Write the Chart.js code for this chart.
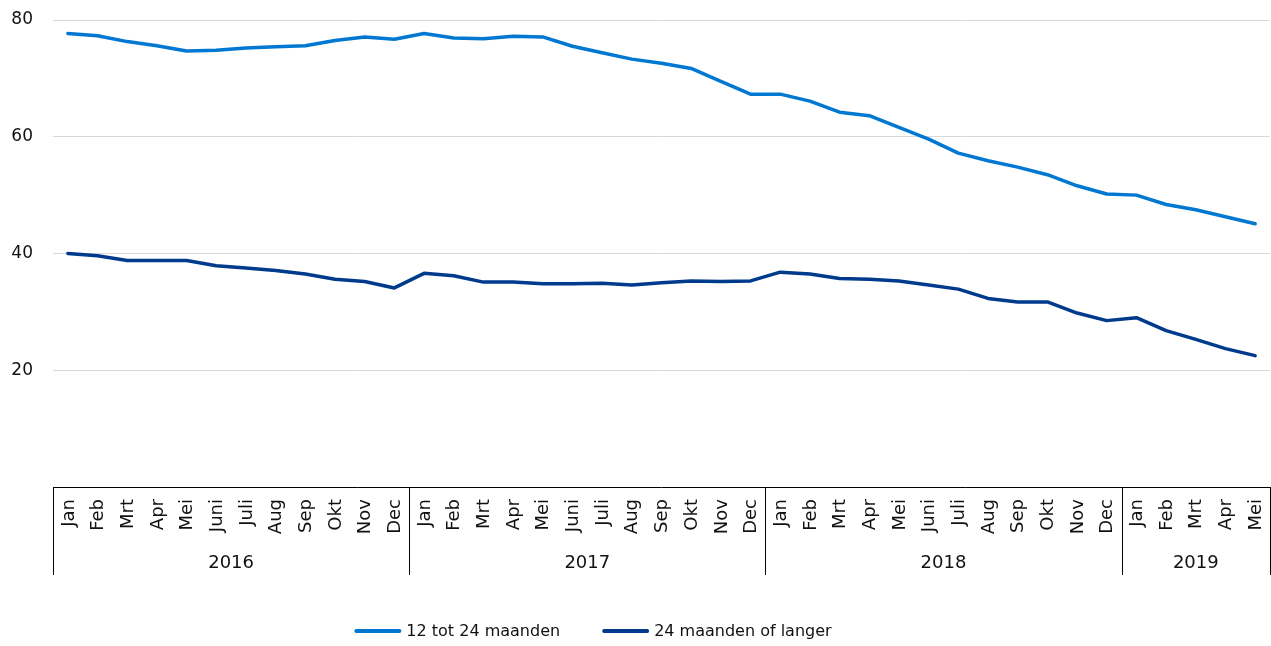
<!DOCTYPE html>
<html>
<head>
<meta charset="utf-8">
<script src="https://cdn.jsdelivr.net/npm/chart.js@4/dist/chart.umd.min.js"></script>
<style>
  html, body { margin: 0; padding: 0; background: #fff; }
  #wrap { width: 1271px; height: 646px; position: relative; }
</style>
</head>
<body>
<div id="wrap"><canvas id="chart"></canvas></div>
<script>
const months = [
  "Jan", "Feb", "Mrt", "Apr", "Mei", "Juni", "Juli", "Aug", "Sep", "Okt", "Nov", "Dec",
  "Jan", "Feb", "Mrt", "Apr", "Mei", "Juni", "Juli", "Aug", "Sep", "Okt", "Nov", "Dec",
  "Jan", "Feb", "Mrt", "Apr", "Mei", "Juni", "Juli", "Aug", "Sep", "Okt", "Nov", "Dec",
  "Jan", "Feb", "Mrt", "Apr", "Mei"
];
const years = ["2016", "2017", "2018", "2019"];
const monthsPerYear = [12, 12, 12, 5];

const shortTerm = [
  77.7, 77.3, 76.3, 75.6, 74.7, 74.8, 75.2, 75.4, 75.6, 76.5, 77.1, 76.7,
  77.7, 76.9, 76.8, 77.2, 77.1, 75.5, 74.4, 73.3, 72.6, 71.7, 69.5, 67.3,
  67.3, 66.1, 64.2, 63.6, 61.6, 59.6, 57.2, 55.9, 54.8, 53.5, 51.6, 50.2,
  50.0, 48.4, 47.5, 46.3, 45.1
];
const longTerm = [
  40.0, 39.6, 38.8, 38.8, 38.8, 37.9, 37.5, 37.1, 36.5, 35.6, 35.2, 34.1,
  36.6, 36.2, 35.1, 35.1, 34.8, 34.8, 34.9, 34.6, 35.0, 35.3, 35.2, 35.3,
  36.8, 36.5, 35.7, 35.6, 35.3, 34.6, 33.9, 32.3, 31.7, 31.7, 29.8, 28.5,
  29.0, 26.8, 25.3, 23.7, 22.5
];
const yTicks = [0, 20, 40, 60, 80];

const FONT = "'DejaVu Sans', Verdana, sans-serif";
const TEXT = "#111";

// month row, year row, separators and legend are drawn here
const axisBoxPlugin = {
  id: "axisBox",
  afterDraw(chart) {
    const { ctx, chartArea } = chart;
    const x = chart.scales.x;
    const top = chartArea.bottom;
    const step = (chartArea.right - chartArea.left) / months.length;

    ctx.save();
    ctx.fillStyle = TEXT;
    ctx.font = "18px " + FONT;

    months.forEach((m, i) => {
      const px = x.getPixelForValue(i);
      ctx.save();
      ctx.translate(px, top + 12);
      ctx.rotate(-Math.PI / 2);
      ctx.textAlign = "right";
      ctx.textBaseline = "middle";
      ctx.fillText(m, 0, 1);
      ctx.restore();
    });

    ctx.strokeStyle = "#000";
    ctx.lineWidth = 1;
    let start = 0;
    const bounds = [chartArea.left];
    years.forEach((y, k) => {
      const x0 = chartArea.left + start * step;
      const x1 = chartArea.left + (start + monthsPerYear[k]) * step;
      bounds.push(x1);
      ctx.textAlign = "center";
      ctx.textBaseline = "middle";
      ctx.fillText(y, (x0 + x1) / 2, top + 76);
      start += monthsPerYear[k];
    });
    bounds.forEach((bx) => {
      const px = Math.round(bx) + 0.5;
      ctx.beginPath();
      ctx.moveTo(px, top);
      ctx.lineTo(px, top + 88);
      ctx.stroke();
    });

    // legend
    ctx.font = "16px " + FONT;
    const sample = 47, gap = 5, itemGap = 42, ly = 631;
    const widths = chart.data.datasets.map((d) => sample + gap + ctx.measureText(d.label).width);
    const total = widths.reduce((a, b) => a + b, 0) + itemGap * (widths.length - 1);
    let lx = 593 - total / 2;
    chart.data.datasets.forEach((d, i) => {
      ctx.strokeStyle = d.borderColor;
      ctx.lineWidth = 4;
      ctx.lineCap = "round";
      ctx.beginPath();
      ctx.moveTo(lx + 2, ly);
      ctx.lineTo(lx + sample - 2, ly);
      ctx.stroke();
      ctx.textAlign = "left";
      ctx.textBaseline = "middle";
      ctx.fillText(d.label, lx + sample + gap, ly + 1);
      lx += widths[i] + itemGap;
    });
    ctx.restore();
  },
};

new Chart(document.getElementById("chart"), {
  type: "line",
  data: {
    labels: months,
    datasets: [
      {
        label: "12 tot 24 maanden",
        data: shortTerm,
        borderColor: "#0078d2",
        backgroundColor: "#0078d2",
        borderWidth: 3.5,
        pointRadius: 0,
        tension: 0,
        borderCapStyle: "round",
        borderJoinStyle: "round",
      },
      {
        label: "24 maanden of langer",
        data: longTerm,
        borderColor: "#003a8c",
        backgroundColor: "#003a8c",
        borderWidth: 3.5,
        pointRadius: 0,
        tension: 0,
        borderCapStyle: "round",
        borderJoinStyle: "round",
      },
    ],
  },
  options: {
    responsive: true,
    maintainAspectRatio: false,
    animation: false,
    layout: { padding: { top: 20, right: 1, left: 0, bottom: 0 } },
    plugins: {
      legend: { display: false },
      tooltip: { enabled: false },
    },
    scales: {
      x: {
        offset: true,
        grid: { display: false },
        border: { display: false },
        ticks: { display: false },
        afterFit: (scale) => {
          scale.height = 159;
        },
      },
      y: {
        min: 0,
        max: 80,
        afterBuildTicks: (scale) => {
          scale.ticks = yTicks.map((v) => ({ value: v }));
        },
        afterFit: (scale) => {
          scale.width = 53;
          scale.paddingTop = 0;
          scale.paddingBottom = 0;
        },
        border: { display: false },
        grid: {
          drawTicks: false,
          color: (c) => (c.tick && c.tick.value === 0 ? "#000" : "#d9d9d9"),
        },
        ticks: {
          padding: 20,
          color: TEXT,
          font: { family: FONT, size: 17 },
          callback: (v) => (v === 0 ? "" : v),
        },
      },
    },
  },
  plugins: [axisBoxPlugin],
});
</script>
</body>
</html>
